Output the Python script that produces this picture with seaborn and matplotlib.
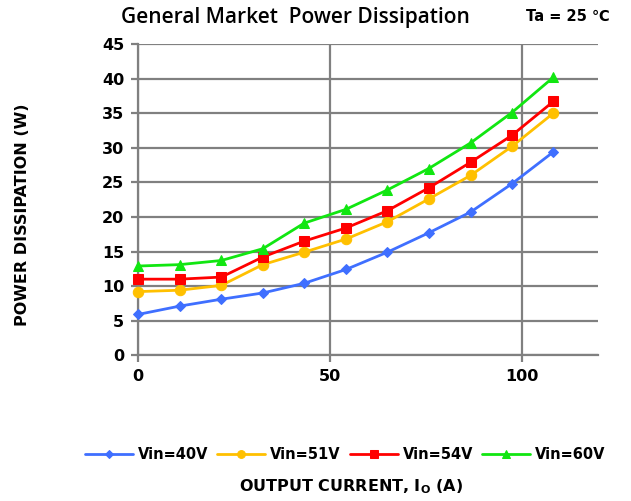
import matplotlib
matplotlib.use("Agg")
import matplotlib.pyplot as plt
import seaborn as sns
import pandas as pd

# ---- data ----
current = [0, 10.8, 21.7, 32.5, 43.3, 54.2, 65.0, 75.8, 86.7, 97.5, 108.3]
vin40 = [5.9, 7.1, 8.1, 9.0, 10.4, 12.4, 14.9, 17.7, 20.7, 24.8, 29.4]
vin51 = [9.2, 9.4, 10.1, 13.1, 14.9, 16.8, 19.3, 22.6, 26.0, 30.2, 35.0]
vin54 = [11.0, 11.0, 11.3, 14.2, 16.5, 18.4, 20.9, 24.2, 27.9, 31.8, 36.7]
vin60 = [12.9, 13.1, 13.7, 15.4, 19.1, 21.1, 23.9, 27.0, 30.7, 35.1, 40.2]
series_names = ["Vin=40V", "Vin=51V", "Vin=54V", "Vin=60V"]
colors = ["#3F6FFF", "#FFC000", "#FF0000", "#11E611"]
markers = ["D", "o", "s", "^"]
msizes = [5.5, 7.5, 7.5, 7.5]
title = "General Market  Power Dissipation"
subtitle = "Ta = 25 \u2103"
xlabel = "OUTPUT CURRENT, I$_\\mathregular{O}$ (A)"
ylabel = "POWER DISSIPATION (W)"

rows = []
for name, vals in zip(series_names, [vin40, vin51, vin54, vin60]):
    for x, y in zip(current, vals):
        rows.append({"current": x, "power": y, "series": name})
df = pd.DataFrame(rows)

sns.set_theme(style="white")
plt.rcParams["font.family"] = ["DejaVu Sans"]
plt.rcParams["text.color"] = "black"
plt.rcParams["xtick.color"] = "black"
plt.rcParams["ytick.color"] = "black"

fig = plt.figure(figsize=(6.31, 5.01), dpi=100)
ax = fig.add_axes([0.219, 0.291, 0.729, 0.621])

for name, c, m, ms in zip(series_names, colors, markers, msizes):
    sub = df[df["series"] == name]
    sns.lineplot(data=sub, x="current", y="power", ax=ax, color=c, marker=m,
                 markersize=ms, markeredgecolor=c, linewidth=2.0, label=name,
                 clip_on=False, zorder=3)

ax.set_xlim(0, 120)
ax.set_ylim(0, 45)
ax.set_xticks([0, 50, 100])
ax.set_yticks(range(0, 46, 5))
ax.grid(True, color="#808080", linewidth=1.6)
for s in ["top", "right"]:
    ax.spines[s].set_visible(False)
for s in ["left", "bottom"]:
    ax.spines[s].set_color("#808080")
    ax.spines[s].set_linewidth(1.6)
ax.tick_params(axis="both", length=5, width=1.6, color="#808080", labelsize=11.5,
               pad=5, left=True, bottom=True, labelcolor="black")
for lab in ax.get_xticklabels() + ax.get_yticklabels():
    lab.set_fontweight("bold")

ax.set_xlabel("")
ax.set_ylabel("")
fig.text(0.557, 0.028, xlabel, ha="center", va="center", fontsize=11.5, fontweight="bold")
fig.text(0.036, 0.571, ylabel, ha="center", va="center", rotation=90, fontsize=11.5,
         fontweight="bold")
fig.text(0.468, 0.966, title, ha="center", va="center", fontsize=15,
         family=["Open Sans", "DejaVu Sans"], fontweight="semibold")
fig.text(0.9, 0.968, subtitle, ha="center", va="center", fontsize=10.5, fontweight="bold")

handles, labels = ax.get_legend_handles_labels()
ax.legend_.remove()
fig.legend(handles, labels, loc="center", bbox_to_anchor=(0.547, 0.092), ncol=4,
           frameon=False, prop={"weight": "bold", "size": 10.5}, handlelength=3.3,
           columnspacing=0.6, handletextpad=0.35, markerscale=0.75)

fig.savefig("out.png", dpi=100)
